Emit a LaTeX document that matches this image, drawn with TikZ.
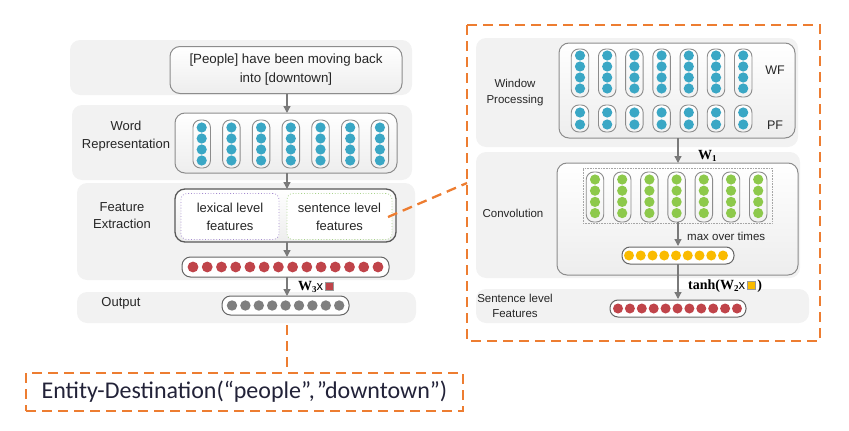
\documentclass[tikz,border=0pt]{standalone}
\usepackage{fontspec}
\setmainfont{Liberation Sans}
\newfontfamily\calib{Carlito}
\newfontfamily\tnr{Liberation Serif}
\usetikzlibrary{arrows.meta,calc}
\definecolor{bandc}{HTML}{F2F2F2}
\definecolor{boxline}{HTML}{8C8C8C}
\definecolor{arrc}{HTML}{7A7A7A}
\definecolor{dotteal}{HTML}{3AA7C5}
\definecolor{dotgreen}{HTML}{8DC94B}
\definecolor{dotyellow}{HTML}{FABB00}
\definecolor{dotred}{HTML}{C0444A}
\definecolor{dotgray}{HTML}{7F7F7F}
\definecolor{orangec}{HTML}{ED7D31}
\definecolor{lexc}{HTML}{A58BD0}
\definecolor{senc}{HTML}{A8D48A}
\definecolor{navytext}{HTML}{222238}
\tikzset{
  band/.style={fill=bandc, draw=none, rounded corners=10pt, inner sep=0pt},
  bigbox/.style={draw=boxline, line width=1pt, rounded corners=10pt, top color=white, bottom color=black!7, inner sep=0pt},
  pill/.style={draw=boxline, line width=0.9pt, rounded corners=7.5pt, top color=white, bottom color=black!5, inner sep=0pt},
  hpill/.style={draw=black!60, line width=1pt, rounded corners=8.5pt, fill=white, inner sep=0pt},
  arr/.style={draw=arrc, line width=1.3pt, -{Triangle[length=7pt,width=7pt]}},
  odash/.style={draw=orangec, line width=2.3pt, dash pattern=on 10pt off 6pt},
  lab/.style={font=\fontsize{13}{18}\selectfont, align=center, text=black!85, inner sep=0pt},
  rlab/.style={font=\fontsize{11.5}{15.5}\selectfont, align=center, text=black!85, inner sep=0pt},
}
\begin{document}
\begin{tikzpicture}[x=1pt,y=-1pt]
\useasboundingbox (0,0) rectangle (849,431);
% ---------------- left panel bands
\node[band, minimum width=342, minimum height=55] (b1) at (241,67.5) {};
\node[band, minimum width=340, minimum height=75] (b2) at (242,142.5) {};
\node[band, minimum width=338, minimum height=97] (b3) at (246,231.5) {};
\node[band, minimum width=339, minimum height=31] (b4) at (246.5,307.5) {};
% sentence
\node[bigbox, minimum width=232, minimum height=47, lab, font=\fontsize{13.3}{19}\selectfont] (sent) at (286,70) {[People] have been moving back\\into [downtown]};
% word representation
\node[lab] (lwr) at (126,136) {Word\\Representation};
\node[bigbox, minimum width=222, minimum height=60] (wr) at (286,143) {};
\foreach \i in {0,...,6}{
  \pgfmathsetmacro{\cx}{201.7+29.7*\i}
  \node[pill, minimum width=17.5, minimum height=48] (wp\i) at (\cx,144) {};
  \foreach \j in {0,...,3}{
    \fill[dotteal] (\cx,127.5+11*\j) circle (5.1);
  }
}
% feature extraction
\node[lab, font=\fontsize{13}{17}\selectfont] (lfe) at (122,215.5) {Feature\\Extraction};
\node[bigbox, draw=black!65, line width=1.3pt, minimum width=221, minimum height=53] (fe) at (285.5,215.5) {};
\node[draw=lexc, dotted, line width=0.8pt, rounded corners=6pt, minimum width=98, minimum height=46, inner sep=0pt, fill=white, lab] (lex) at (230,216.5) {lexical level\\features};
\node[draw=senc, dotted, line width=0.8pt, rounded corners=6pt, minimum width=105, minimum height=46, inner sep=0pt, fill=white, lab] (sen) at (339.5,216.5) {sentence level\\features};
\node[hpill, minimum width=207, minimum height=20] (rp) at (285.5,267) {};
\foreach \i in {0,...,13}{
  \fill[dotred] (193+14.23*\i,267) circle (5.4);
}
% output
\node[lab] (lout) at (121,303) {Output};
\node[hpill, minimum width=127, minimum height=19] (gp) at (285.5,305.5) {};
\foreach \i in {0,...,8}{
  \fill[dotgray] (232+13.4*\i,305.5) circle (5.2);
}
% left arrows
\draw[arr] (sent.south -| 287,0) -- (287,113);
\draw[arr] (287,173) -- (287,189);
\draw[arr] (287,242) -- (287,257);
\draw[arr] (287,277) -- (287,296);
\node[anchor=west, inner sep=0pt] (w3) at (298,287) {\tnr\bfseries\fontsize{14}{16}\selectfont W\raisebox{-0.35ex}{\fontsize{9}{10}\selectfont 3}\normalfont\fontsize{13}{16}\selectfont x\,\tikz[baseline=0pt]\fill[dotred,draw=black!40,line width=0.4pt] (0,0) rectangle (7.5,-8.5);};
% ---------------- right panel
\node[draw=none, minimum width=353, minimum height=316, inner sep=0pt] (rpanel) at (643.5,183) {};
\draw[odash] (467,25) rectangle (820,341);
\node[band, minimum width=322, minimum height=109] (ba) at (637,92.5) {};
\node[band, minimum width=324, minimum height=126] (bb) at (638,215) {};
\node[band, minimum width=333, minimum height=34] (bc) at (642.5,306) {};
% window processing
\node[rlab] (lwp) at (515,92.5) {Window\\Processing};
\node[bigbox, minimum width=236, minimum height=95] (wpbox) at (677,90.5) {};
\foreach \i in {0,...,6}{
  \pgfmathsetmacro{\cx}{580+27.2*\i}
  \node[pill, minimum width=17.5, minimum height=48] (wf\i) at (\cx,73) {};
  \foreach \j in {0,...,3}{
    \fill[dotteal] (\cx,55.5+11*\j) circle (5.1);
  }
  \node[pill, minimum width=17.5, minimum height=27] (pf\i) at (\cx,118.5) {};
  \foreach \j in {0,...,1}{
    \fill[dotteal] (\cx,112.5+12*\j) circle (5.1);
  }
}
\node[rlab, font=\fontsize{12.5}{15}\selectfont] (lwf) at (775,70) {WF};
\node[rlab, font=\fontsize{12.5}{15}\selectfont] (lpf) at (775,125) {PF};
% convolution
\node[rlab] (lconv) at (513,213) {Convolution};
\node[bigbox, minimum width=241, minimum height=112] (cvbox) at (677.5,219) {};
\node[draw=black!35, densely dotted, line width=0.6pt, minimum width=189, minimum height=55, inner sep=0pt] (cvin) at (677.5,195.5) {};
\foreach \i in {0,...,6}{
  \pgfmathsetmacro{\cx}{595+27.2*\i}
  \node[pill, minimum width=17.5, minimum height=50] (gr\i) at (\cx,197) {};
  \foreach \j in {0,...,3}{
    \fill[dotgreen] (\cx,179.5+11.2*\j) circle (5.1);
  }
}
\node[hpill, minimum width=112, minimum height=17, rounded corners=8pt] (yp) at (678,255.5) {};
\foreach \i in {0,...,8}{
  \fill[dotyellow] (629+11.75*\i,255.5) circle (5);
}
\node[rlab, anchor=west] (lmax) at (687,236) {max over times};
% sentence level features
\node[rlab] (lslf) at (515,306) {Sentence level\\Features};
\node[hpill, minimum width=136, minimum height=17, rounded corners=8pt] (rp2) at (678,308.5) {};
\foreach \i in {0,...,10}{
  \fill[dotred] (618+11.9*\i,308.5) circle (5);
}
% right arrows
\draw[arr] (678,138) -- (678,163);
\node[anchor=west, inner sep=0pt] (w1) at (698,156) {\tnr\bfseries\fontsize{14}{16}\selectfont W\raisebox{-0.35ex}{\fontsize{9}{10}\selectfont 1}};
\draw[arr] (678,222) -- (678,246);
\draw[arr] (678,264) -- (678,299);
\node[anchor=west, inner sep=0pt] (tanh) at (688,286) {\tnr\bfseries\fontsize{14}{16}\selectfont tanh(W\raisebox{-0.35ex}{\fontsize{9}{10}\selectfont 2}\normalfont\fontsize{13}{16}\selectfont x\,\tikz[baseline=0pt]\fill[dotyellow,draw=black!40,line width=0.4pt] (0,0) rectangle (7.5,-8.5);\,\tnr\bfseries\fontsize{14}{16}\selectfont)};
% ---------------- orange connectors and result
\coordinate (rpin) at (467,183);
\draw[odash] (388,217) -- (rpin);
\node[draw=orangec, line width=2.3pt, dash pattern=on 10pt off 6pt, minimum width=437, minimum height=38, inner sep=0pt, font=\calib\fontsize{24}{27}\selectfont, text=navytext] (ent) at (244.5,392) {Entity-Destination(“people”,\kern2pt”downtown”)};
\draw[odash] (287,325) -- (287,373);
\end{tikzpicture}
\end{document}
